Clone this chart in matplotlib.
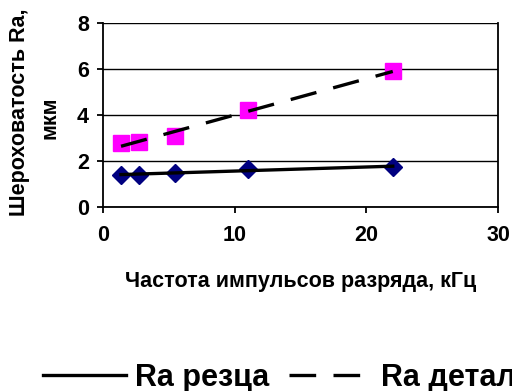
import numpy as np
import matplotlib
matplotlib.use("Agg")
import matplotlib.pyplot as plt

plt.rcParams["font.family"] = ["Liberation Sans", "DejaVu Sans"]
plt.rcParams["font.weight"] = "bold"

# pulse frequency, kHz
freq = [1.375, 2.75, 5.5, 11, 22]
ra_tool = [1.4, 1.4, 1.48, 1.66, 1.74]   # Ra резца
ra_part = [2.78, 2.83, 3.1, 4.23, 5.9]   # Ra детали
labels = ["Ra резца", "Ra детали"]
xticks = [0, 10, 20, 30]
yticks = [0, 2, 4, 6, 8]

fig = plt.figure(figsize=(5.12, 3.91), dpi=100)
ax = fig.add_axes([0.201, 0.4706, 0.772, 0.4706])

x = np.array(freq)
ax.plot(freq, ra_tool, "D", color="#000080", ms=9, zorder=2)
ax.plot(freq, ra_part, "s", color="#FF00FF", ms=11, zorder=2)

# linear trendlines, as in the spreadsheet chart
k1 = np.polyfit(x, ra_tool, 1)
k2 = np.polyfit(x, ra_part, 1)
xx = np.array([x.min(), x.max()])
l1, = ax.plot(xx, np.polyval(k1, xx), "-", color="black", lw=2.4, zorder=3,
              label=labels[0])
l2, = ax.plot(xx, np.polyval(k2, xx), color="black", lw=2.4, zorder=3,
              dashes=[8.0, 5.2], label=labels[1])

ax.set_xlim(0, 30); ax.set_ylim(0, 8)
ax.set_xticks(xticks); ax.set_yticks(yticks)
ax.yaxis.grid(True, color="black", lw=1.0)
ax.set_axisbelow(True)
ax.spines["top"].set_visible(False)
for s in ["left", "bottom", "right"]:
    ax.spines[s].set_linewidth(1.3)
ax.tick_params(direction="out", length=4, width=1.3, labelsize=15.5)
ax.tick_params(axis="x", pad=9)
ax.tick_params(axis="y", pad=6)
for t in ax.get_xticklabels() + ax.get_yticklabels():
    t.set_fontweight("bold")

fig.text(0.588, 0.281, "Частота импульсов разряда, кГц", ha="center",
         va="center", fontsize=15.5, fontweight="bold")
fig.text(0.039, 0.713, "Шероховатость Ra,", rotation=90, ha="center",
         va="center", fontsize=15.5, fontweight="bold")
fig.text(0.097, 0.70, "мкм", rotation=90, ha="center", va="center",
         fontsize=15.5, fontweight="bold")

# legend runs past the right edge, as in the source image
fig.legend(handles=[l1, l2], loc="center left", bbox_to_anchor=(0.031, 0.033),
           ncol=2, frameon=False, handlelength=2.7,
           handletextpad=0.3, columnspacing=0.65,
           prop={"weight": "bold", "size": 22})

fig.savefig("out.png", dpi=100)
